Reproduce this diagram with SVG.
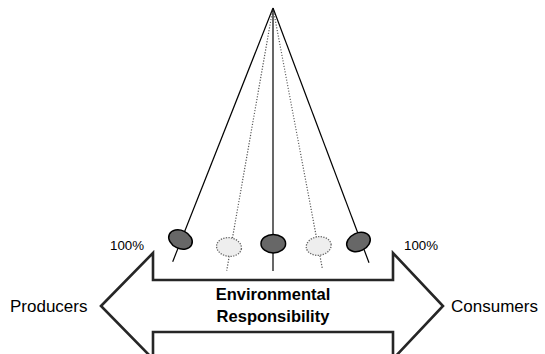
<svg xmlns="http://www.w3.org/2000/svg" width="545" height="354" viewBox="0 0 545 354">
<style>
.solid{stroke:#000;stroke-width:1.2;fill:none}
.dot{stroke:#555;stroke-width:1.2;stroke-dasharray:1.2 1.6;fill:none}
.dark{fill:#676767;stroke:#000;stroke-width:1.5}
.light{fill:#eeeeee;stroke:#666;stroke-width:1.3;stroke-dasharray:1.3 1.3}
.lbl{font-family:"Liberation Sans",Arial,sans-serif;fill:#000}
</style>
<rect width="545" height="354" fill="#fff"/>
<g id="arrow">
<path d="M101,306 L153,253 L153,280 L393,280 L393,253 L443,306 L393,359 L393,332 L153,332 L153,359 Z" fill="#fff" stroke="#262626" stroke-width="2.6" stroke-linejoin="miter"/>
<text class="lbl" x="273" y="300" font-size="16.5" font-weight="bold" text-anchor="middle">Environmental</text>
<text class="lbl" x="273" y="322" font-size="16.5" font-weight="bold" text-anchor="middle">Responsibility</text>
</g>
<g id="connectors">
<line class="solid" x1="273" y1="8" x2="172.7" y2="261.7"/>
<line class="dot" x1="273" y1="8" x2="226.7" y2="270.7"/>
<line class="solid" x1="273" y1="8" x2="273" y2="271"/>
<line class="dot" x1="273" y1="8" x2="322.3" y2="268.3"/>
<line class="solid" x1="273" y1="8" x2="369" y2="262.7"/>
</g>
<g id="bob1"><ellipse class="dark" cx="0" cy="0" rx="12.3" ry="9" transform="translate(180.5,239.5) rotate(25)"/></g>
<g id="bob2"><ellipse class="light" cx="0" cy="0" rx="12.5" ry="9.3" transform="translate(229,247) rotate(8)"/></g>
<g id="bob3"><ellipse class="dark" cx="273.3" cy="243.7" rx="12.3" ry="9.2"/></g>
<g id="bob4"><ellipse class="light" cx="0" cy="0" rx="12.5" ry="9.3" transform="translate(318.7,246) rotate(-8)"/></g>
<g id="bob5"><ellipse class="dark" cx="0" cy="0" rx="12.3" ry="9" transform="translate(358.5,242) rotate(-25)"/></g>
<g id="labels">
<text class="lbl" x="110" y="250" font-size="12.5" textLength="34" lengthAdjust="spacingAndGlyphs">100%</text>
<text class="lbl" x="404" y="250" font-size="12.5" textLength="34" lengthAdjust="spacingAndGlyphs">100%</text>
<text class="lbl" x="10" y="312" font-size="17">Producers</text>
<text class="lbl" x="451" y="312" font-size="17">Consumers</text>
</g>
</svg>
